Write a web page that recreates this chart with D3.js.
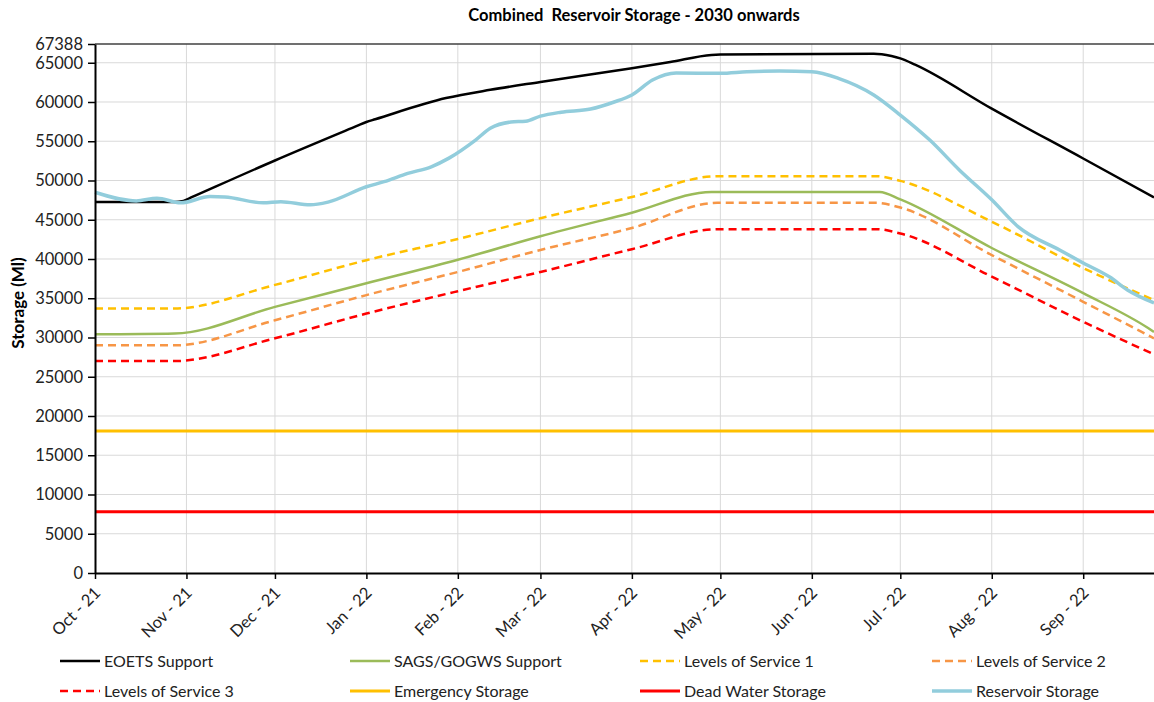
<!DOCTYPE html>
<html>
<head>
<meta charset="utf-8">
<script src="https://cdn.jsdelivr.net/npm/d3@7"></script>
<style>
  html, body { margin: 0; padding: 0; background: #fff; }
  svg { display: block; font-family: Lato, "Open Sans", sans-serif; }
</style>
</head>
<body>
<svg id="chart" width="1154" height="702"></svg>
<script>
// ---------------- DATA ----------------
const monthTicks = ["2021-10-01","2021-11-01","2021-12-01","2022-01-01","2022-02-01","2022-03-01",
  "2022-04-01","2022-05-01","2022-06-01","2022-07-01","2022-08-01","2022-09-01"];
const monthLabels = ["Oct - 21","Nov - 21","Dec - 21","Jan - 22","Feb - 22","Mar - 22",
  "Apr - 22","May - 22","Jun - 22","Jul - 22","Aug - 22","Sep - 22"];
const yTicks = [0,5000,10000,15000,20000,25000,30000,35000,40000,45000,50000,55000,60000,65000,67388];
const domainDates = ["2021-10-01","2022-09-25"];

const eoetsDates = ["2021-10-01","2021-10-28","2021-10-31","2021-11-03","2021-12-01","2021-12-29","2022-01-01",
  "2022-01-04","2022-01-28","2022-02-12",
  "2022-03-01","2022-04-01","2022-04-14","2022-04-28","2022-05-01","2022-06-22","2022-06-28",
  "2022-07-01","2022-07-06","2022-08-01","2022-09-01","2022-09-25"];
const eoetsValues = [47250,47250,47400,47900,52550,56980,57450,57800,60500,61550,62550,64300,65100,66000,
  66050,66150,65850,65550,64750,59150,52800,47850];

const sagsDates = ["2021-10-01","2021-10-28","2021-12-01","2022-01-01","2022-02-01","2022-03-01",
  "2022-04-01","2022-04-28","2022-06-24","2022-07-01","2022-08-01","2022-09-01","2022-09-23","2022-09-25"];
const sagsValues = [30400,30500,33900,36900,39900,42900,45900,48550,48550,47600,41400,35650,31200,30700];

const losDates = ["2021-10-01","2021-10-28","2021-12-01","2022-01-01","2022-02-01","2022-03-01",
  "2022-04-01","2022-04-30","2022-06-23","2022-07-01","2022-08-01","2022-09-01","2022-09-25"];
const los1Values = [33700,33700,36700,39850,42550,45200,47900,50550,50550,49950,44750,38850,34750];
const los2Values = [29000,29000,32200,35400,38350,41150,43950,47150,47150,46550,40500,34550,29900];
const los3Values = [27000,27000,29900,33050,35900,38350,41250,43800,43800,43250,37750,32000,27850];

const emergencyValue = 18100;
const deadWaterValue = 7800;

const reservoirDates = ["2021-10-01","2021-10-15","2021-10-22","2021-10-30","2021-11-09","2021-11-14",
  "2021-11-27","2021-12-03","2021-12-13","2021-12-19","2022-01-01","2022-01-07","2022-01-15",
  "2022-01-23","2022-01-29","2022-02-07","2022-02-12","2022-02-19","2022-02-24","2022-03-01",
  "2022-03-08","2022-03-18","2022-03-26","2022-04-01","2022-04-08","2022-04-16","2022-05-01",
  "2022-05-10","2022-05-21","2022-06-01","2022-06-10","2022-06-22","2022-07-01","2022-07-11",
  "2022-07-21","2022-08-01","2022-08-10","2022-08-24","2022-09-01","2022-09-10",
  "2022-09-16","2022-09-25"];
const reservoirValues = [48500,47400,47750,47150,47950,47900,47150,47300,46900,47250,49200,49850,50900,
  51750,52850,55150,56650,57450,57550,58200,58700,59100,60000,60900,62800,63700,63650,63850,63950,
  63850,63020,60900,58340,55150,51350,47550,44100,41150,39500,37700,36050,34400];

const seriesNames = ["EOETS Support","SAGS/GOGWS Support","Levels of Service 1","Levels of Service 2",
  "Levels of Service 3","Emergency Storage","Dead Water Storage","Reservoir Storage"];

// ---------------- CHART ----------------
const parse = d3.utcParse("%Y-%m-%d");
const svg = d3.select("#chart");
const L = 95, R = 1154, T = 44, B = 573;

const x = d3.scaleUtc().domain(domainDates.map(parse)).range([L, R]);
const y = d3.scaleLinear().domain([0, 67388]).range([B, T]);

const styles = [
  {color:"#000000", width:2.5, dash:null},
  {color:"#9bbb59", width:2.5, dash:null},
  {color:"#ffc000", width:2.5, dash:"8,5"},
  {color:"#f79646", width:2.5, dash:"8,5"},
  {color:"#ff0000", width:2.5, dash:"8,5"},
  {color:"#ffc000", width:3, dash:null},
  {color:"#ff0000", width:3, dash:null},
  {color:"#92cddc", width:3.5, dash:null}
];

// gridlines
const grid = svg.append("g");
yTicks.filter(v => v > 0 && v < 67388).forEach(v => {
  grid.append("line").attr("x1", L).attr("x2", R).attr("y1", y(v)).attr("y2", y(v))
    .attr("stroke", "#d9d9d9").attr("stroke-width", 1);
});
monthTicks.slice(1).forEach(d => {
  const xx = x(parse(d));
  grid.append("line").attr("x1", xx).attr("x2", xx).attr("y1", T).attr("y2", B)
    .attr("stroke", "#d9d9d9").attr("stroke-width", 1);
});

// top border
svg.append("line").attr("x1", L).attr("x2", R).attr("y1", y(67388)).attr("y2", y(67388))
  .attr("stroke", "#404040").attr("stroke-width", 1.5);

// series
const line = d3.line().x(d => x(d[0])).y(d => y(d[1])).curve(d3.curveMonotoneX);
const zip = (ds, vs) => ds.map((d, i) => [parse(d), vs[i]]);
const domainD = domainDates.map(parse);
const seriesData = [
  zip(eoetsDates, eoetsValues),
  zip(sagsDates, sagsValues),
  zip(losDates, los1Values),
  zip(losDates, los2Values),
  zip(losDates, los3Values),
  domainD.map(d => [d, emergencyValue]),
  domainD.map(d => [d, deadWaterValue]),
  zip(reservoirDates, reservoirValues)
];
const plot = svg.append("g");
seriesData.forEach((data, i) => {
  const s = styles[i];
  plot.append("path").datum(data).attr("d", line)
    .attr("fill", "none").attr("stroke", s.color).attr("stroke-width", s.width)
    .attr("stroke-dasharray", s.dash).attr("stroke-linejoin", "round");
});

// y axis
const yAxis = svg.append("g").attr("transform", `translate(${L},0)`)
  .call(d3.axisLeft(y).tickValues(yTicks).tickSize(7).tickSizeOuter(0).tickFormat(d => String(d)));
yAxis.select(".domain").attr("stroke", "#000").attr("stroke-width", 2);
yAxis.selectAll(".tick line").attr("stroke", "#000").attr("stroke-width", 1.5);
yAxis.selectAll(".tick text").attr("font-size", 16.5).attr("fill", "#222").attr("x", -12)
  .attr("font-family", "Lato, sans-serif");

// x axis
const xAxis = svg.append("g").attr("transform", `translate(0,${B})`)
  .call(d3.axisBottom(x).tickValues(monthTicks.map(parse)).tickSize(6).tickSizeOuter(0)
    .tickFormat((d, i) => monthLabels[i]));
xAxis.select(".domain").attr("stroke", "#000").attr("stroke-width", 2);
xAxis.selectAll(".tick line").attr("stroke", "#000").attr("stroke-width", 1.5);
xAxis.selectAll(".tick text").attr("font-size", 16.5).attr("fill", "#222")
  .attr("font-family", "Lato, sans-serif")
  .attr("text-anchor", "end").attr("dy", 0).attr("y", 0)
  .attr("transform", "translate(6,21) rotate(-45)");

// title
svg.append("text").attr("x", 634).attr("y", 21).attr("text-anchor", "middle")
  .attr("font-size", 16.5).attr("font-weight", "bold").attr("fill", "#000")
  .style("white-space", "pre").attr("xml:space", "preserve")
  .text("Combined  Reservoir Storage - 2030 onwards");

// y label
svg.append("text").attr("transform", "translate(24,303) rotate(-90)").attr("text-anchor", "middle")
  .attr("font-size", 17).attr("font-weight", "bold").attr("fill", "#000")
  .text("Storage (Ml)");

// legend
const legX = [60, 350, 640, 932], legY = [661, 691];
seriesNames.forEach((n, i) => {
  const col = i % 4, row = Math.floor(i / 4);
  const g = svg.append("g").attr("transform", `translate(${legX[col]},${legY[row]})`);
  const s = styles[i];
  g.append("line").attr("x1", 0).attr("x2", 40).attr("y1", 0).attr("y2", 0)
    .attr("stroke", s.color).attr("stroke-width", s.width).attr("stroke-dasharray", s.dash);
  g.append("text").attr("x", 44).attr("y", 0).attr("dy", "0.35em")
    .attr("font-size", 16).attr("fill", "#222").text(n);
});
</script>
</body>
</html>
